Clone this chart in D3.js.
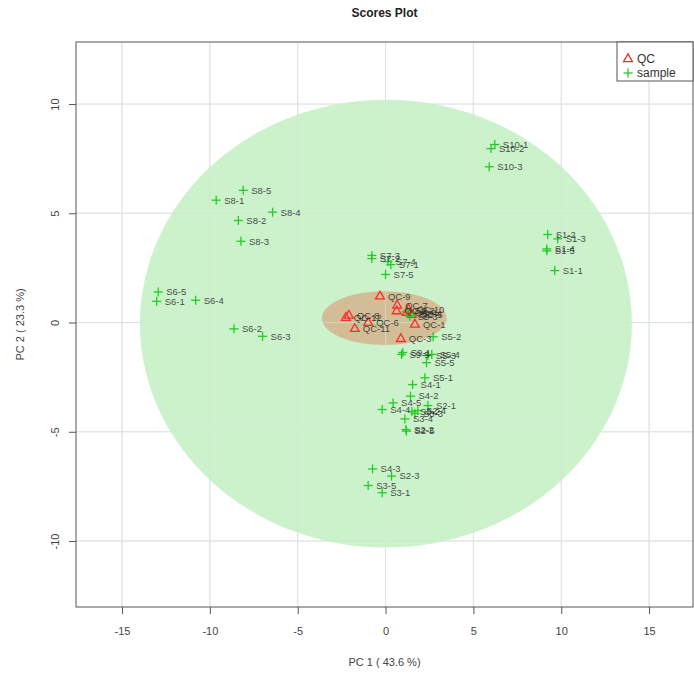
<!DOCTYPE html>
<html><head><meta charset="utf-8">
<script src="https://cdn.jsdelivr.net/npm/d3@7"></script>
<style>body{margin:0;background:#fff}svg{display:block}text{font-family:"Liberation Sans",Arial,sans-serif}</style>
</head><body>
<script>
// ---- data ----
const xTicks = [-15,-10,-5,0,5,10,15];
const yTicks = [-10,-5,0,5,10];
const groups = ["QC","sample"];
const groupColors = ["#ff2a2a","#22cc22"];
// confidence ellipses: centre and radii in PC units
const ellGroup = ["sample","QC"];
const ellCx = [0.02,-0.07];
const ellCy = [-0.05,0.2];
const ellRx = [14.0,3.55];
const ellRy = [10.25,1.23];
const ellFill = ["#c3f0c3","#d2b48c"];

const qcNames = ["QC-9","QC-7","QC-2","QC-4","QC-5","QC-10","QC-1","QC-3","QC-8","QC-12","QC-6","QC-11"];
const qcPC1 = [-0.32,0.66,0.63,1.2,1.5,1.3,1.67,0.87,-2.09,-2.26,-0.99,-1.75];
const qcPC2 = [1.20,0.78,0.52,0.45,0.35,0.6,-0.09,-0.75,0.32,0.22,-0.01,-0.29];

const sampleNames = ["S1-1","S1-2","S1-3","S1-4","S1-5",
  "S2-1","S2-2","S2-3","S2-4","S2-5",
  "S3-1","S3-2","S3-3","S3-4","S3-5",
  "S4-1","S4-2","S4-3","S4-4","S4-5",
  "S5-1","S5-2","S5-3","S5-4","S5-5",
  "S6-1","S6-2","S6-3","S6-4","S6-5",
  "S7-1","S7-2","S7-3","S7-4","S7-5",
  "S8-1","S8-2","S8-3","S8-4","S8-5",
  "S9-1","S9-2","S9-3","S9-4","S9-5",
  "S10-1","S10-2","S10-3"];
const samplePC1 = [9.63,9.23,9.80,9.18,9.18,
  2.41,1.16,0.34,1.84,1.19,
  -0.19,1.50,1.67,1.10,-0.99,
  1.54,1.42,-0.74,-0.19,0.43,
  2.24,2.71,2.41,2.63,2.33,
  -13.03,-8.63,-7.00,-10.81,-12.94,
  0.30,-0.78,-0.78,0.13,0.00,
  -9.64,-8.38,-8.23,-6.43,-8.10,
  0.98,1.19,1.38,1.6,0.91,
  6.22,6.00,5.90];
const samplePC2 = [2.38,4.03,3.83,3.37,3.28,
  -3.80,-4.90,-7.03,-4.03,-4.97,
  -7.79,-4.07,-4.16,-4.41,-7.46,
  -2.84,-3.37,-6.70,-3.98,-3.68,
  -2.53,-0.65,-1.51,-1.46,-1.84,
  0.97,-0.29,-0.63,1.02,1.40,
  2.65,2.93,3.07,2.79,2.20,
  5.60,4.67,3.72,5.05,6.05,
  -1.37,0.52,0.29,0.4,-1.46,
  8.15,7.96,7.13];

// ---- layout ----
const W=694,H=673;
const L=76,R=693,T=42,B=607;
const x=d3.scaleLinear().domain([-17.62,17.5]).range([L,R]);
const y=d3.scaleLinear().domain([-13.02,12.84]).range([B,T]);
const svg=d3.select("body").append("svg").attr("width",W).attr("height",H);

// title
svg.append("text").attr("x",(L+R)/2).attr("y",17).attr("text-anchor","middle")
  .attr("font-size",12).attr("font-weight","bold").attr("fill","#222").text("Scores Plot");

// grid
const grid=svg.append("g").attr("stroke","#e2e2e2").attr("stroke-width",1);
xTicks.forEach(t=>grid.append("line").attr("x1",x(t)).attr("x2",x(t)).attr("y1",T).attr("y2",B));
yTicks.forEach(t=>grid.append("line").attr("y1",y(t)).attr("y2",y(t)).attr("x1",L).attr("x2",R));

// ellipses
svg.append("clipPath").attr("id","clip").append("rect").attr("x",L).attr("y",T).attr("width",R-L).attr("height",B-T);
const eg=svg.append("g").attr("clip-path","url(#clip)");
ellGroup.forEach((g,i)=>{
  eg.append("ellipse").attr("cx",x(ellCx[i])).attr("cy",y(ellCy[i]))
    .attr("rx",x(ellCx[i]+ellRx[i])-x(ellCx[i])).attr("ry",y(ellCy[i])-y(ellCy[i]+ellRy[i]))
    .attr("fill",ellFill[i]).attr("fill-opacity",i===0?0.85:0.85);
});
// faint grid on top
const grid2=svg.append("g").attr("stroke","#d6e6d6").attr("stroke-width",1).attr("stroke-opacity",0.6);
xTicks.forEach(t=>grid2.append("line").attr("x1",x(t)).attr("x2",x(t)).attr("y1",T).attr("y2",B));
yTicks.forEach(t=>grid2.append("line").attr("y1",y(t)).attr("y2",y(t)).attr("x1",L).attr("x2",R));

// points
const pg=svg.append("g");
const sampleData=sampleNames.map((n,i)=>({n,px:samplePC1[i],py:samplePC2[i]}));
const qcData=qcNames.map((n,i)=>({n,px:qcPC1[i],py:qcPC2[i]}));
const tri=d3.symbol().type(d3.symbolTriangle).size(34);
pg.selectAll("path.qc").data(qcData).join("path").attr("class","qc")
  .attr("d",tri).attr("transform",d=>`translate(${x(d.px)},${y(d.py)})`)
  .attr("fill","none").attr("stroke",groupColors[0]).attr("stroke-width",1.3);
pg.selectAll("g.s").data(sampleData).join("g").attr("class","s")
  .attr("transform",d=>`translate(${x(d.px)},${y(d.py)})`)
  .each(function(){
    const g=d3.select(this);
    g.append("line").attr("x1",-4.5).attr("x2",4.5).attr("stroke",groupColors[1]).attr("stroke-width",1.3);
    g.append("line").attr("y1",-4.5).attr("y2",4.5).attr("stroke",groupColors[1]).attr("stroke-width",1.3);
  });
// labels
const lg=svg.append("g").attr("font-size",9.5).attr("fill","#2a2a2a").attr("fill-opacity",0.85);
qcData.concat(sampleData).forEach(d=>{
  lg.append("text").attr("x",x(d.px)+8).attr("y",y(d.py)).attr("dy","0.35em").text(d.n);
});

// frame
svg.append("rect").attr("x",L).attr("y",T).attr("width",R-L).attr("height",B-T)
  .attr("fill","none").attr("stroke","#555").attr("stroke-width",1);

// axes
const fmt=d=>String(d);
const ax=svg.append("g").attr("transform",`translate(0,${B})`)
  .call(d3.axisBottom(x).tickValues(xTicks).tickFormat(fmt).tickSize(7).tickPadding(13));
ax.select(".domain").remove();
ax.selectAll("line").attr("stroke","#555");
ax.selectAll("text").attr("font-size",11).attr("fill","#444").attr("font-family","Liberation Sans, Arial");
const ay=svg.append("g").attr("transform",`translate(${L},0)`)
  .call(d3.axisLeft(y).tickValues(yTicks).tickFormat(fmt).tickSize(7));
ay.select(".domain").remove();
ay.selectAll("line").attr("stroke","#555");
ay.selectAll(".tick text").attr("font-size",11).attr("fill","#444").attr("font-family","Liberation Sans, Arial")
  .attr("text-anchor","middle").attr("dy","0.35em")
  .attr("transform","translate(-21,0) rotate(-90)").attr("x",0).attr("y",0);

svg.append("text").attr("x",(L+R)/2).attr("y",666).attr("text-anchor","middle")
  .attr("font-size",11).attr("fill","#444").text("PC 1 ( 43.6 %)");
svg.append("text").attr("transform",`translate(24,${(T+B)/2}) rotate(-90)`).attr("text-anchor","middle")
  .attr("font-size",11).attr("fill","#444").text("PC 2 ( 23.3 %)");

// legend
const leg=svg.append("g");
leg.append("rect").attr("x",617).attr("y",T).attr("width",76).attr("height",39)
  .attr("fill","#fff").attr("stroke","#555");
leg.append("path").attr("d",tri).attr("transform","translate(628,59)")
  .attr("fill","none").attr("stroke",groupColors[0]).attr("stroke-width",1.3);
leg.append("text").attr("x",637).attr("y",59).attr("dy","0.35em").attr("font-size",12).attr("fill","#333").text(groups[0]);
const lp=leg.append("g").attr("transform","translate(628,73)");
lp.append("line").attr("x1",-4.5).attr("x2",4.5).attr("stroke",groupColors[1]).attr("stroke-width",1.3);
lp.append("line").attr("y1",-4.5).attr("y2",4.5).attr("stroke",groupColors[1]).attr("stroke-width",1.3);
leg.append("text").attr("x",637).attr("y",73).attr("dy","0.35em").attr("font-size",12).attr("fill","#333").text(groups[1]);
</script>
</body></html>
